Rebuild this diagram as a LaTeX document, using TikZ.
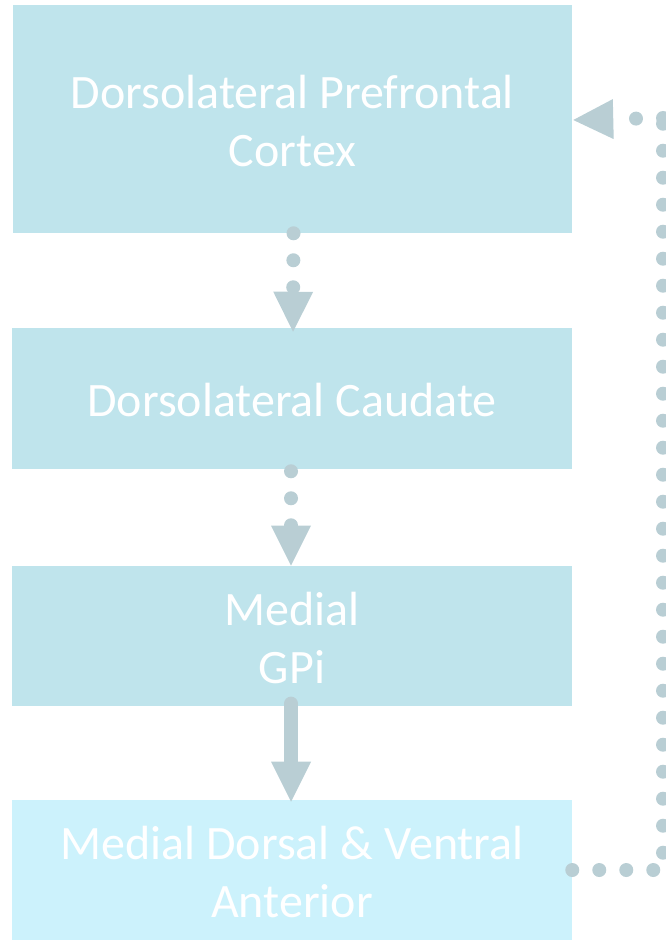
\documentclass[tikz,border=0pt]{standalone}
\usepackage{fontspec}
\setmainfont{Carlito}
\usetikzlibrary{arrows.meta}
\definecolor{boxblue}{RGB}{191,228,236}
\definecolor{boxcyan}{RGB}{204,242,252}
\definecolor{arrowgray}{RGB}{185,206,212}
\tikzset{
  box/.style={fill=#1, draw=none, text=white, align=center, font=\fontsize{36}{43}\selectfont, inner sep=0pt},
  tip/.style={-{Triangle[width=30pt,length=30pt,line width=0pt,fill=arrowgray]}},
  dotplain/.style={draw=arrowgray, line width=10.5pt, line cap=round, dash pattern=on 0pt off 20.25pt},
  dotline/.style={dotplain, tip},
  solidarrow/.style={draw=arrowgray, line width=10.5pt, line cap=round, tip}
}
\begin{document}
\begin{tikzpicture}[x=0.75pt,y=-0.75pt]
\useasboundingbox (0,0) rectangle (666,944);
\node[box=boxblue, minimum width=559*0.75pt, minimum height=228*0.75pt] (b1) at (292.5,119) {};
\node[box=boxblue, minimum width=560*0.75pt, minimum height=141*0.75pt] (b2) at (292,398.5) {};
\node[box=boxblue, minimum width=560*0.75pt, minimum height=140*0.75pt] (b3) at (292,636) {};
\node[box=boxcyan, minimum width=560*0.75pt, minimum height=140*0.75pt] (b4) at (292,870) {};
\node[box=boxblue, fill=none] (t1) at (292.5,121) {Dorsolateral Prefrontal\\Cortex};
\node[box=boxblue, fill=none] (t2) at (292,400) {Dorsolateral Caudate};
\node[box=boxblue, fill=none] (t3) at (292,638) {Medial\\GPi};
\node[box=boxcyan, fill=none] (t4) at (292,872) {Medial Dorsal \& Ventral\\Anterior};
\coordinate (c1) at (663,870);
\coordinate (c2) at (663,118);
\draw[dotline] ([xshift=0.75pt]b1.south) -- ([xshift=0.75pt,yshift=-3pt]b2.north);
\draw[dotline] ([xshift=-0.75pt,yshift=-1.5pt]b2.south) -- ([xshift=-0.75pt]b3.north);
\draw[solidarrow] ([xshift=-0.75pt,yshift=2pt]b3.south) -- ([xshift=-0.75pt,yshift=-1.5pt]b4.north);
\draw[dotplain] (b4.east) -- (c1) -- (c2);
\draw[dotline] (c2) -- ([xshift=0.75pt,yshift=-0.75pt]b1.east);
\end{tikzpicture}
\end{document}
